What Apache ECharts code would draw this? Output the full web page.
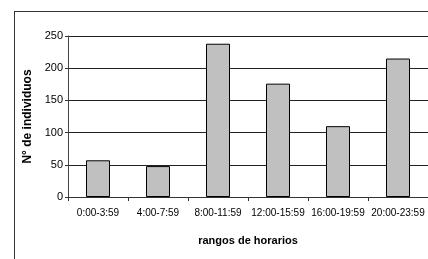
<!DOCTYPE html>
<html><head><meta charset="utf-8">
<script src="https://cdn.jsdelivr.net/npm/echarts@6/dist/echarts.min.js"></script>
<style>html,body{margin:0;padding:0;background:#fff}#c{width:428px;height:259px}</style>
</head><body><div id="c"></div>
<script>
const categories = ['0:00-3:59','4:00-7:59','8:00-11:59','12:00-15:59','16:00-19:59','20:00-23:59'];
const values = [57, 48, 238, 176, 110, 215];
const yTicks = [0, 50, 100, 150, 200, 250];
const yTitle = 'N° de individuos';
const xTitle = 'rangos de horarios';

const chart = echarts.init(document.getElementById('c'), null, {renderer:'canvas'});
chart.setOption({
  animation: false,
  backgroundColor: '#fff',
  grid: {left: 68, top: 36, width: 362, height: 161, containLabel: false},
  xAxis: {
    type: 'category', data: categories,
    axisLine: {lineStyle: {color: '#333', width: 1}},
    axisTick: {show: true, alignWithLabel: false, length: 4, lineStyle: {color: '#333'}},
    axisLabel: {color: '#000', fontFamily: 'Liberation Sans', fontSize: 10, margin: 11, interval: 0},
    name: xTitle, nameLocation: 'middle', nameGap: 38,
    nameTextStyle: {color: '#000', fontFamily: 'Liberation Sans', fontSize: 11, fontWeight: 'bold'}
  },
  yAxis: {
    type: 'value', min: yTicks[0], max: yTicks[yTicks.length-1], interval: 50,
    axisLine: {show: true, lineStyle: {color: '#444', width: 1}},
    axisTick: {show: true, length: 3, lineStyle: {color: '#333'}},
    axisLabel: {color: '#000', fontFamily: 'Liberation Sans', fontSize: 11, margin: 5},
    splitLine: {show: true, lineStyle: {color: '#222', width: 1}},
    name: yTitle, nameLocation: 'middle', nameGap: 25,
    nameTextStyle: {color: '#000', fontFamily: 'Liberation Sans', fontSize: 12, fontWeight: 'bold'}
  },
  series: [{
    type: 'bar', data: values, barWidth: '40%',
    itemStyle: {color: '#c0c0c0', borderColor: '#000', borderWidth: 1}
  }],
  graphic: [
    {type: 'line', shape: {x1: 14, y1: 11.5, x2: 430, y2: 11.5}, style: {stroke: '#333', lineWidth: 1}},
    {type: 'line', shape: {x1: 14.5, y1: 11, x2: 14.5, y2: 262}, style: {stroke: '#333', lineWidth: 1}}
  ]
});
</script></body></html>
